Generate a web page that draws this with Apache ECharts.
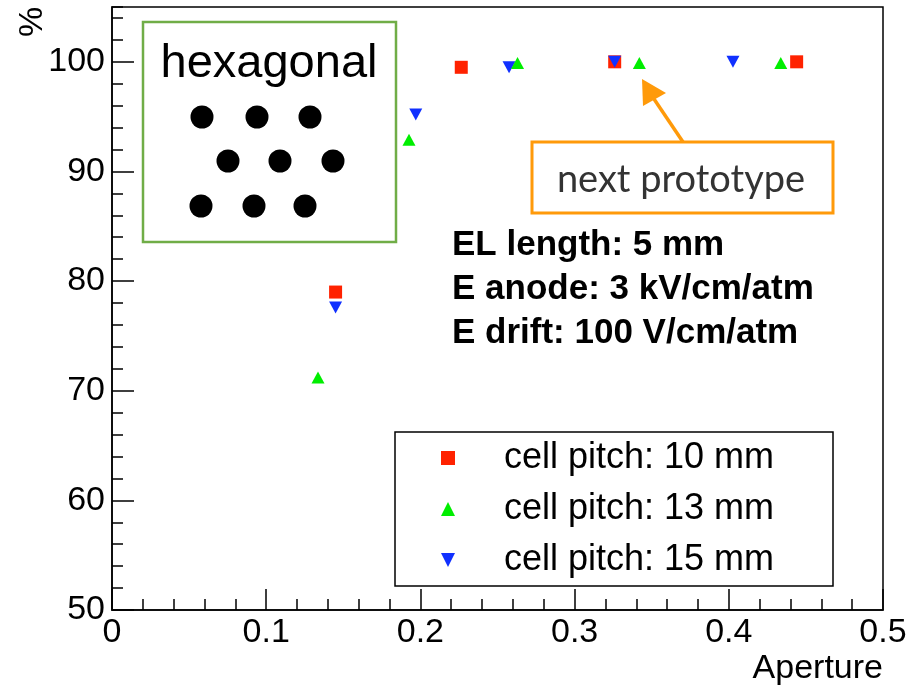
<!DOCTYPE html>
<html>
<head>
<meta charset="utf-8">
<script src="https://cdn.jsdelivr.net/npm/echarts@6/dist/echarts.min.js"></script>
<style>html,body{margin:0;padding:0;background:#fff}#c{width:918px;height:688px}</style>
</head>
<body>
<div id="c"></div>
<script>
// ---- data ----
var seriesNames = ['cell pitch: 10 mm', 'cell pitch: 13 mm', 'cell pitch: 15 mm'];
var pitch10 = [[0.145, 79.0], [0.2265, 99.5], [0.326, 100.0], [0.444, 100.0]];
var pitch13 = [[0.1336, 71.2], [0.1926, 92.9], [0.263, 99.9], [0.342, 99.9], [0.4337, 99.9]];
var pitch15 = [[0.145, 77.6], [0.197, 95.2], [0.2575, 99.5], [0.326, 100.0], [0.4027, 100.0]];
var xTicks = [0, 0.1, 0.2, 0.3, 0.4, 0.5];
var yTicks = [50, 60, 70, 80, 90, 100];
var annotationLines = ['EL length: 5 mm', 'E anode: 3 kV/cm/atm', 'E drift: 100 V/cm/atm'];

var RED = '#ff2200', GREEN = '#00ee00', BLUE = '#1030ff';
var DOWN = 'path://M0,0 L10,0 L5,10 Z';
var FONT = 'Liberation Sans, Arial, Helvetica, sans-serif';

var chart = echarts.init(document.getElementById('c'), null, {renderer: 'canvas'});

var graphics = [];
// hexagonal box
graphics.push({type: 'rect', shape: {x: 143, y: 22, width: 253, height: 220},
  style: {fill: '#fff', stroke: '#70ad47', lineWidth: 2.5}, z: 10});
graphics.push({type: 'text', x: 269, y: 64, style: {text: 'hexagonal', font: '47px ' + FONT,
  fill: '#000', textAlign: 'center', textVerticalAlign: 'middle'}, z: 11});
var dots = [[202,117],[257,117],[310,117],[228,161],[280,161],[333,161],[201,206],[254,206],[305,206]];
dots.forEach(function (d) {
  graphics.push({type: 'circle', shape: {cx: d[0], cy: d[1], r: 11.5}, style: {fill: '#000'}, z: 11});
});
// next prototype box + arrow
graphics.push({type: 'rect', shape: {x: 532, y: 142, width: 301, height: 71},
  style: {fill: '#fff', stroke: '#ff9a0a', lineWidth: 3}, z: 10});
graphics.push({type: 'text', x: 681, y: 180, style: {text: 'next prototype', font: '38px Lato, "Open Sans", sans-serif',
  fill: '#333', textAlign: 'center', textVerticalAlign: 'middle'}, z: 11});
graphics.push({type: 'line', shape: {x1: 683, y1: 142, x2: 654, y2: 99},
  style: {stroke: '#ff9a0a', lineWidth: 3.5}, z: 10});
graphics.push({type: 'polygon', shape: {points: [[642, 79], [643, 106], [666, 93]]},
  style: {fill: '#ff9a0a'}, z: 10});
// bold annotation
annotationLines.forEach(function (t, i) {
  graphics.push({type: 'text', x: 452, y: 245 + i * 44, style: {text: t, font: 'bold 35px ' + FONT,
    fill: '#000', textAlign: 'left', textVerticalAlign: 'middle'}, z: 11});
});
// legend box
graphics.push({type: 'rect', shape: {x: 395, y: 432, width: 438, height: 154},
  style: {fill: '#fff', stroke: '#000', lineWidth: 1.5}, z: 1});
// axis titles
graphics.push({type: 'text', x: 33, y: 22, rotation: Math.PI / 2, style: {text: '%', font: '34px ' + FONT,
  fill: '#000', textAlign: 'center', textVerticalAlign: 'middle'}, z: 11});
graphics.push({type: 'text', x: 883, y: 669, style: {text: 'Aperture', font: '34px ' + FONT,
  fill: '#000', textAlign: 'right', textVerticalAlign: 'middle'}, z: 11});

var option = {
  animation: false,
  backgroundColor: '#fff',
  grid: {left: 112, right: 35, top: 7, bottom: 78, show: true, borderColor: '#000', borderWidth: 1.5, backgroundColor: 'transparent'},
  xAxis: {
    type: 'value', min: xTicks[0], max: xTicks[xTicks.length - 1], interval: 0.1,
    axisLine: {show: true, lineStyle: {color: '#000', width: 1.5}},
    axisTick: {show: true, inside: true, length: 21, lineStyle: {color: '#000', width: 1.5}},
    minorTick: {show: true, splitNumber: 5, length: 11, lineStyle: {color: '#000', width: 1.5}},
    splitLine: {show: false},
    axisLabel: {show: true, margin: 6, color: '#000', fontFamily: FONT, fontSize: 34,
      formatter: function (v) { return String(Math.round(v * 10) / 10); }}
  },
  yAxis: [{
    type: 'value', min: 50, max: 105, interval: 10,
    axisLine: {show: true, lineStyle: {color: '#000', width: 1.5}},
    axisTick: {show: true, inside: true, length: 22, lineStyle: {color: '#000', width: 1.5}},
    splitLine: {show: false},
    axisLabel: {show: true, margin: 7, color: '#000', fontFamily: FONT, fontSize: 34, showMaxLabel: false,
      formatter: function (v) { return yTicks.indexOf(v) >= 0 ? String(v) : ''; }}
  }, {
    type: 'value', min: 50, max: 105, interval: 2, position: 'left',
    axisLine: {show: false},
    axisTick: {show: true, inside: true, length: 11, lineStyle: {color: '#000', width: 1.5}},
    splitLine: {show: false},
    axisLabel: {show: false}
  }],
  legend: {
    show: true, orient: 'vertical', left: 395 + 46, top: 440, padding: 0,
    itemWidth: 14, itemHeight: 14, itemGap: 15,
    data: [
      {name: seriesNames[0], icon: 'rect'},
      {name: seriesNames[1], icon: 'triangle'},
      {name: seriesNames[2], icon: DOWN}
    ],
    itemStyle: {opacity: 1},
    textStyle: {fontFamily: FONT, fontSize: 36, color: '#000', lineHeight: 36, padding: [0, 0, 0, 44]},
    selectedMode: false
  },
  series: [
    {name: seriesNames[0], type: 'scatter', data: pitch10, symbol: 'rect', symbolSize: 13,
      itemStyle: {color: RED, opacity: 1}, z: 3},
    {name: seriesNames[2], type: 'scatter', data: pitch15, symbol: DOWN, symbolSize: [13, 12],
      itemStyle: {color: BLUE, opacity: 1}, z: 3},
    {name: seriesNames[1], type: 'scatter', data: pitch13, symbol: 'triangle', symbolSize: [13, 12],
      itemStyle: {color: GREEN, opacity: 1}, z: 3}
  ],
  graphic: graphics
};
chart.setOption(option);
</script>
</body>
</html>
